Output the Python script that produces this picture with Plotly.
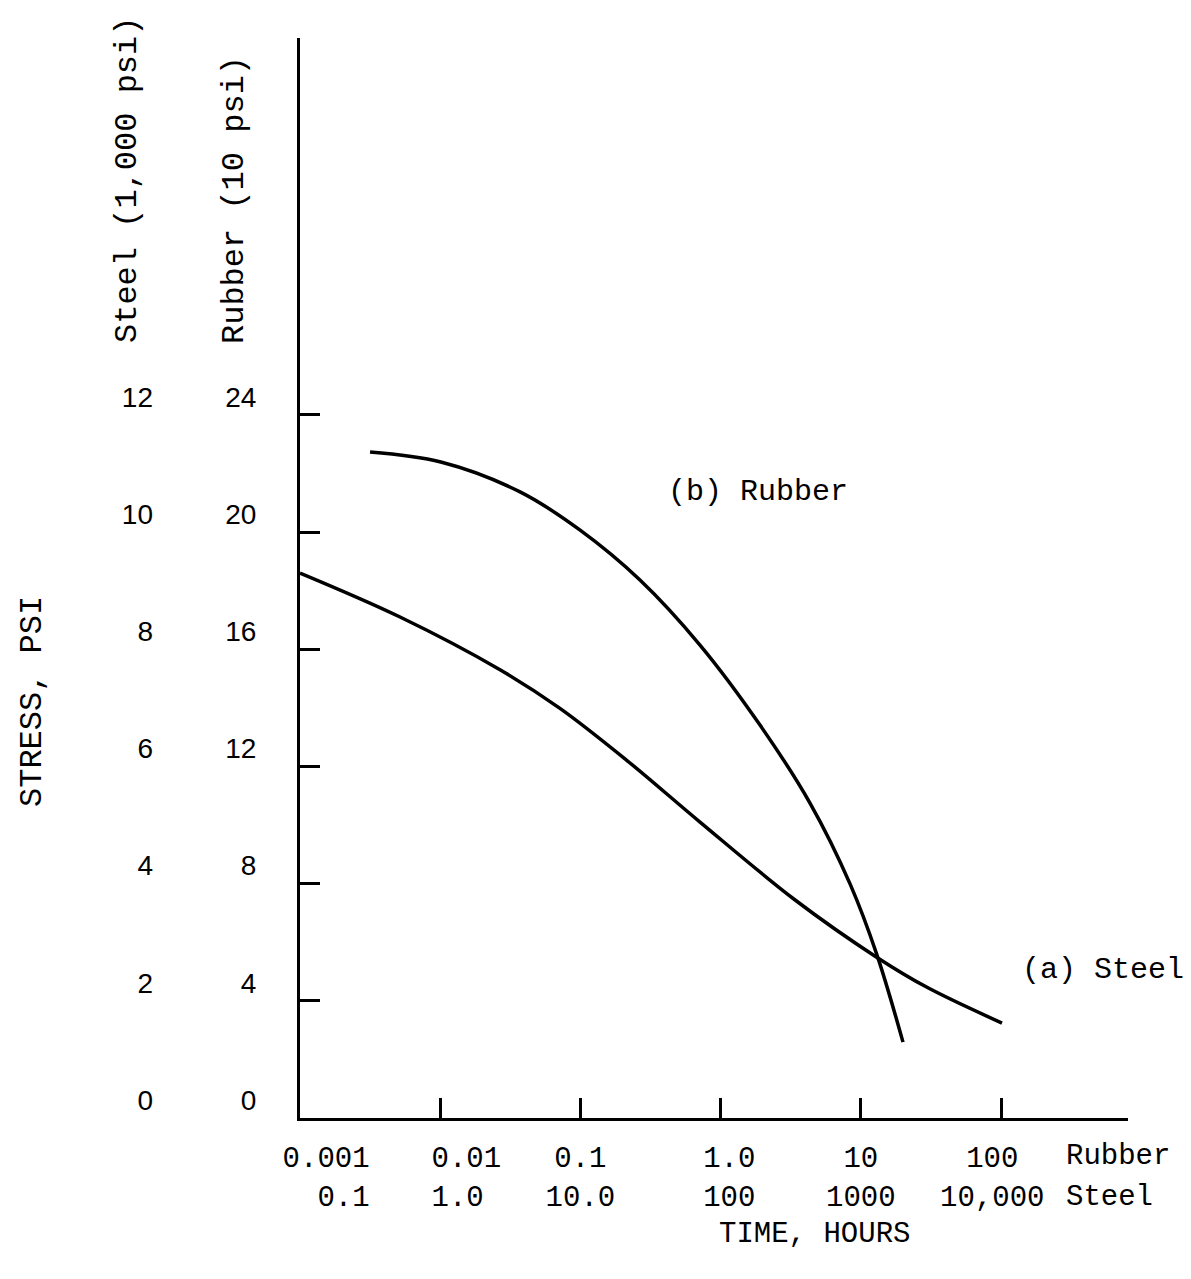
import plotly.graph_objects as go

# ---- data ----
rubber_time = [0.00316, 0.0101, 0.0371, 0.099, 0.266, 0.713,
               1.91, 4.34, 8.38, 13.05, 20.0]                 # hours
rubber_stress = [22.73, 22.39, 21.37, 20.07, 18.36, 16.14,
                 13.41, 10.75, 7.99, 5.56, 2.59]              # 10 psi

steel_time = [0.1, 0.517, 2.67, 7.15, 21.5, 71.3, 340, 1305, 2966, 10165]   # hours
steel_stress = [9.30, 8.55, 7.65, 6.99, 6.10, 5.05, 3.72, 2.74, 2.23, 1.62]  # 1,000 psi

NB = "\u00a0"
rubber_xticks = [0.001, 0.01, 0.1, 1, 10, 100]
rubber_xticktext = [NB * 3 + "0.001", NB * 3 + "0.01", "0.1", NB + "1.0", "10", "100" + NB]
steel_xticks = [0.1, 1, 10, 100, 1000, 10000]
steel_xticktext = [NB * 5 + "0.1", NB * 2 + "1.0", "10.0", NB + "100", "1000", "10,000" + NB]
rubber_yticks = [0, 4, 8, 12, 16, 20, 24]
steel_yticks = [0, 2, 4, 6, 8, 10, 12]

# ---- figure ----
# the page body has an 8px margin, so the figure is drawn 8px smaller
W, H = 1183, 1271
L, R, T, B = 292, 63, 30, 161
PW, PH = W - L - R, H - T - B
MONO = "Liberation Mono, Courier New, monospace"
SANS = "Liberation Sans, Arial, sans-serif"


def px(x):  # x in screen pixels of the final picture
    return (x - 300) / PW


def py(y):
    return (1118 - y) / PH


dec = 140.2
xr = [-3, -3 + PW / dec]
yr = [0, PH / 117.2 * 4]

line_style = dict(color="black", width=3.5, shape="spline", smoothing=1.0)
fig = go.Figure()
fig.add_trace(go.Scatter(x=rubber_time, y=rubber_stress, mode="lines",
                         line=line_style, name="(b) Rubber", xaxis="x", yaxis="y"))
fig.add_trace(go.Scatter(x=steel_time, y=steel_stress, mode="lines",
                         line=line_style, name="(a) Steel", xaxis="x2", yaxis="y2"))

fig.update_layout(
    width=W, height=H, autosize=False,
    margin=dict(l=L, r=R, t=T, b=B, pad=0),
    paper_bgcolor="white", plot_bgcolor="white",
    showlegend=False,
    xaxis=dict(type="log", range=xr, showgrid=False, zeroline=False,
               showline=True, linecolor="black", linewidth=3,
               ticks="inside", ticklen=20, tickwidth=3, tickcolor="black",
               tickvals=rubber_xticks, ticktext=rubber_xticktext,
               tickfont=dict(family=MONO, size=29, color="black"),
               ticklabelstandoff=11),
    xaxis2=dict(type="log", range=[xr[0] + 2, xr[1] + 2], overlaying="x",
                anchor="y", side="bottom", showgrid=False, zeroline=False,
                showline=False, ticks="",
                tickvals=steel_xticks, ticktext=steel_xticktext,
                tickfont=dict(family=MONO, size=29, color="black"),
                ticklabelstandoff=58),
    yaxis=dict(range=yr, showgrid=False, zeroline=False,
               showline=True, linecolor="black", linewidth=3,
               ticks="inside", ticklen=20, tickwidth=3, tickcolor="black",
               tickvals=rubber_yticks,
               tickfont=dict(family=SANS, size=28, color="black"),
               ticklabelstandoff=35, ticklabelshift=-18),
    yaxis2=dict(range=[yr[0] / 2, yr[1] / 2], overlaying="y", anchor="x",
                side="left", showgrid=False, zeroline=False,
                showline=False, ticks="",
                tickvals=steel_yticks,
                tickfont=dict(family=SANS, size=28, color="black"),
                ticklabelstandoff=146, ticklabelshift=-18),
)

ann = [
    dict(text="(b) Rubber", x=px(666), y=py(492), xanchor="left", yanchor="middle",
         font=dict(family=MONO, size=30)),
    dict(text="(a) Steel", x=px(1020), y=py(970), xanchor="left", yanchor="middle",
         font=dict(family=MONO, size=30)),
    dict(text="Rubber", x=px(1064), y=py(1156), xanchor="left", yanchor="middle",
         font=dict(family=MONO, size=29)),
    dict(text="Steel", x=px(1064), y=py(1197), xanchor="left", yanchor="middle",
         font=dict(family=MONO, size=29)),
    dict(text="TIME, HOURS", x=px(814), y=py(1234), xanchor="center", yanchor="middle",
         font=dict(family=MONO, size=29)),
    dict(text="Steel (1,000 psi)", x=px(127), y=py(180), textangle=-90,
         xanchor="center", yanchor="middle", font=dict(family=MONO, size=32)),
    dict(text="Rubber (10 psi)", x=px(234), y=py(200), textangle=-90,
         xanchor="center", yanchor="middle", font=dict(family=MONO, size=32)),
    dict(text="STRESS, PSI", x=px(32), y=py(702), textangle=-90,
         xanchor="center", yanchor="middle", font=dict(family=MONO, size=32)),
]
for a in ann:
    a.update(xref="paper", yref="paper", showarrow=False)
    a["font"]["color"] = "black"
fig.update_layout(annotations=ann)

fig.write_html("out.html")
